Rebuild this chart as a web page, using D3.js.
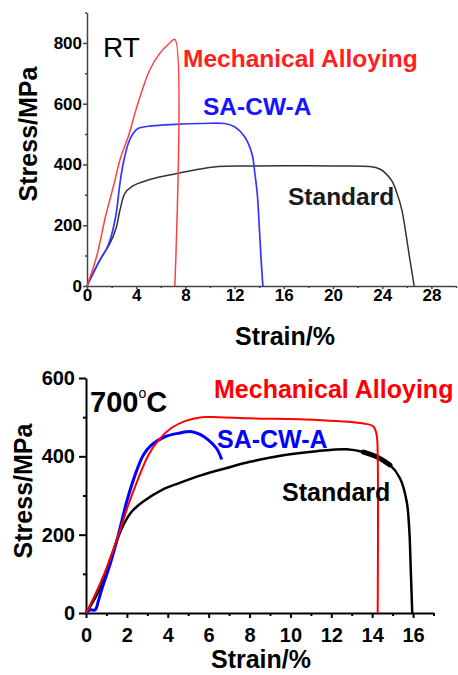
<!DOCTYPE html>
<html>
  <head>
    <meta charset="utf-8">
    <title>Stress-strain curves</title>
    <script src="https://cdn.jsdelivr.net/npm/d3@7"></script>
    <style>
      body { margin: 0; background: #fff; }
      svg text { font-family: Arial, "Liberation Sans", sans-serif; }
    </style>
  </head>
  <body>
    <div id="chart"></div>
    <script>
      // room temperature curves, [strain %, stress MPa]
      const rtMechanical = [[0,0],[0.78,97],[1.5,228],[2.14,327],[2.76,426],[3.36,492],[3.9,569],[4.5,646],[5.1,711],[5.9,765],[6.7,799],[7.14,812],[7.14,0]];
      const rtSaCwA = [[0,0],[0.92,75],[1.78,140],[2.33,228],[2.68,338],[2.95,404],[3.36,470],[3.76,503],[4.17,519],[5.25,527],[7.14,532],[9.3,535],[11.2,535],[12.0,524],[12.8,492],[13.4,437],[13.65,370],[13.85,300],[14.0,200],[14.15,90],[14.3,0]];
      const rtStandard = [[0,0],[1.05,86],[1.87,140],[2.4,195],[2.68,250],[3.08,305],[3.63,327],[4.17,338],[5.5,355],[7.14,369],[8.77,382],[10.66,393],[12.8,395],[16,396],[20,395],[23,393],[23.8,385],[24.3,370],[24.8,345],[25.2,305],[25.6,250],[25.9,180],[26.2,100],[26.6,0]];
      // 700 C curves
      const hotMechanical = [[0,0],[0.44,46],[0.93,105],[1.42,174],[1.75,225],[2.07,276],[2.56,344],[3.05,403],[3.54,441],[4.19,473],[4.84,490],[5.66,500],[6.47,500],[8.02,497],[11.29,493],[13.57,484],[14.06,476],[14.22,454],[14.27,400],[14.27,0]];
      const hotSaCwA = [[0,0],[0.2,8],[0.45,8],[0.6,30],[0.8,65],[1.17,123],[1.58,199],[1.99,284],[2.4,352],[2.8,403],[3.21,429],[3.86,450],[4.52,459],[5.17,463],[5.58,456],[5.98,442],[6.39,420],[6.64,392]];
      const hotStandard = [[0,0],[0.6,54],[1.26,148],[1.75,216],[2.24,259],[2.89,288],[3.7,314],[4.52,331],[5.66,352],[6.8,369],[8.02,386],[9.65,403],[11.29,413],[12.75,418],[13.57,411],[14.22,399],[14.87,378],[15.36,344],[15.69,284],[15.82,208],[15.88,123],[15.96,0]];
      // serrated stretch of the 700 C standard curve (strain range)
      const hotSerration = [13.3, 15.0];
      // ticks
      const rtStrainTicks = [0,4,8,12,16,20,24,28];
      const rtStrainMinor = [2,6,10,14,18,22,26,30];
      const rtStressTicks = [0,200,400,600,800];
      const rtStressMinor = [100,300,500,700,900];
      const hotStrainTicks = [0,2,4,6,8,10,12,14,16];
      const hotStrainMinor = [1,3,5,7,9,11,13,15,17];
      const hotStressTicks = [0,200,400,600];
      const hotStressMinor = [100,300,500];

      const svg = d3.select("#chart").append("svg")
        .attr("width", 458)
        .attr("height", 675);

      const line = d3.line()
        .curve(d3.curveCatmullRom.alpha(0.5));

      function panel(p) {
        const x = d3.scaleLinear().domain(p.xDomain).range(p.xRange);
        const y = d3.scaleLinear().domain(p.yDomain).range(p.yRange);
        const g = svg.append("g");
        // minor ticks
        g.append("g")
          .attr("transform", "translate(0," + p.yRange[0] + ")")
          .call(d3.axisBottom(x).tickValues(p.xMinor).tickSize(p.minorSize).tickFormat("").tickSizeOuter(0))
          .call(a => a.select(".domain").remove());
        g.append("g")
          .attr("transform", "translate(" + p.xRange[0] + ",0)")
          .call(d3.axisLeft(y).tickValues(p.yMinor).tickSize(p.minorSize).tickFormat("").tickSizeOuter(0))
          .call(a => a.select(".domain").remove());
        // main axes
        g.append("g")
          .attr("transform", "translate(0," + p.yRange[0] + ")")
          .call(d3.axisBottom(x).tickValues(p.xTicks).tickSize(p.xTickSize).tickPadding(p.xPad).tickSizeOuter(0));
        g.append("g")
          .attr("transform", "translate(" + p.xRange[0] + ",0)")
          .call(d3.axisLeft(y).tickValues(p.yTicks).tickSize(p.yTickSize).tickPadding(p.yPad).tickSizeOuter(0));
        g.selectAll(".tick line, .domain")
          .attr("stroke", p.axisColor)
          .attr("stroke-width", p.axisWidth);
        g.selectAll(".tick text")
          .attr("fill", "#000")
          .style("font-size", p.tickFont + "px")
          .style("font-weight", "bold")
          .style("font-family", "Arial, 'Liberation Sans', sans-serif");
        line.x(d => x(d[0])).y(d => y(d[1]));
        // curves
        p.series.forEach(function(s) {
          g.append("path")
            .datum(s.data)
            .attr("fill", "none")
            .attr("stroke", s.color)
            .attr("stroke-width", s.width)
            .attr("stroke-linejoin", "round")
            .attr("d", line);
          if (s.thick) {
            g.append("path")
              .datum(s.data.filter(d => d[0] >= s.thick[0] && d[0] <= s.thick[1]))
              .attr("fill", "none")
              .attr("stroke", s.color)
              .attr("stroke-width", 5)
              .attr("stroke-linecap", "round")
              .attr("d", line);
          }
        });
        // series labels
        p.labels.forEach(function(l) {
          g.append("text")
            .attr("x", l.x)
            .attr("y", l.y)
            .attr("fill", l.color)
            .style("font-size", l.size + "px")
            .style("font-weight", "bold")
            .text(l.text);
        });
        // axis titles
        g.append("text")
          .attr("x", p.xTitle[0])
          .attr("y", p.xTitle[1])
          .attr("text-anchor", "middle")
          .style("font-size", p.titleFont + "px")
          .style("font-weight", "bold")
          .text("Strain/%");
        g.append("text")
          .attr("transform", "translate(" + p.yTitle[0] + "," + p.yTitle[1] + ") rotate(-90)")
          .attr("text-anchor", "middle")
          .style("font-size", p.titleFont + "px")
          .style("font-weight", "bold")
          .text("Stress/MPa");
        return g;
      }

      panel({
        xDomain: [0, 30], xRange: [87, 456],
        yDomain: [0, 900], yRange: [286, 12.6],
        xTicks: rtStrainTicks, xMinor: rtStrainMinor,
        yTicks: rtStressTicks, yMinor: rtStressMinor,
        xTickSize: 3, xPad: 0, yTickSize: 4, yPad: 1, minorSize: 2,
        axisColor: "#444", axisWidth: 1.5, tickFont: 17, titleFont: 25,
        xTitle: [285, 345], yTitle: [37, 134],
        series: [
          {data: rtStandard, color: "#333", width: 1.5},
          {data: rtSaCwA, color: "#3535ff", width: 1.7},
          {data: rtMechanical, color: "#ff4040", width: 1.5}
        ],
        labels: [
          {text: "Mechanical Alloying", x: 183, y: 67, color: "#ff2020", size: 24.5},
          {text: "SA-CW-A", x: 203, y: 115, color: "#1515ff", size: 24.5},
          {text: "Standard", x: 288, y: 205, color: "#1a1a1a", size: 24.5}
        ]
      });
      svg.append("text")
        .attr("x", 103)
        .attr("y", 57)
        .style("font-size", "28px")
        .text("RT");

      panel({
        xDomain: [0, 17], xRange: [86, 433.5],
        yDomain: [0, 600], yRange: [613, 378],
        xTicks: hotStrainTicks, xMinor: hotStrainMinor,
        yTicks: hotStressTicks, yMinor: hotStressMinor,
        xTickSize: 5, xPad: 10, yTickSize: 7, yPad: 4, minorSize: 3,
        axisColor: "#000", axisWidth: 2, tickFont: 20, titleFont: 25,
        xTitle: [261, 668], yTitle: [32, 491],
        series: [
          {data: hotStandard, color: "#000", width: 2.5, thick: hotSerration},
          {data: hotSaCwA, color: "#0000ff", width: 3},
          {data: hotMechanical, color: "#ff0000", width: 2}
        ],
        labels: [
          {text: "Mechanical Alloying", x: 214, y: 398, color: "#ff0000", size: 25},
          {text: "SA-CW-A", x: 217, y: 448, color: "#0000ff", size: 25},
          {text: "Standard", x: 282, y: 501, color: "#000", size: 25}
        ]
      });
      const hot = svg.append("text")
        .attr("x", 90)
        .attr("y", 412)
        .style("font-size", "29px")
        .style("font-weight", "bold");
      hot.append("tspan").text("700");
      hot.append("tspan").attr("dy", -14).style("font-size", "14px").style("font-weight", "normal").text("o");
      hot.append("tspan").attr("dy", 14).text("C");
    </script>
  </body>
</html>
